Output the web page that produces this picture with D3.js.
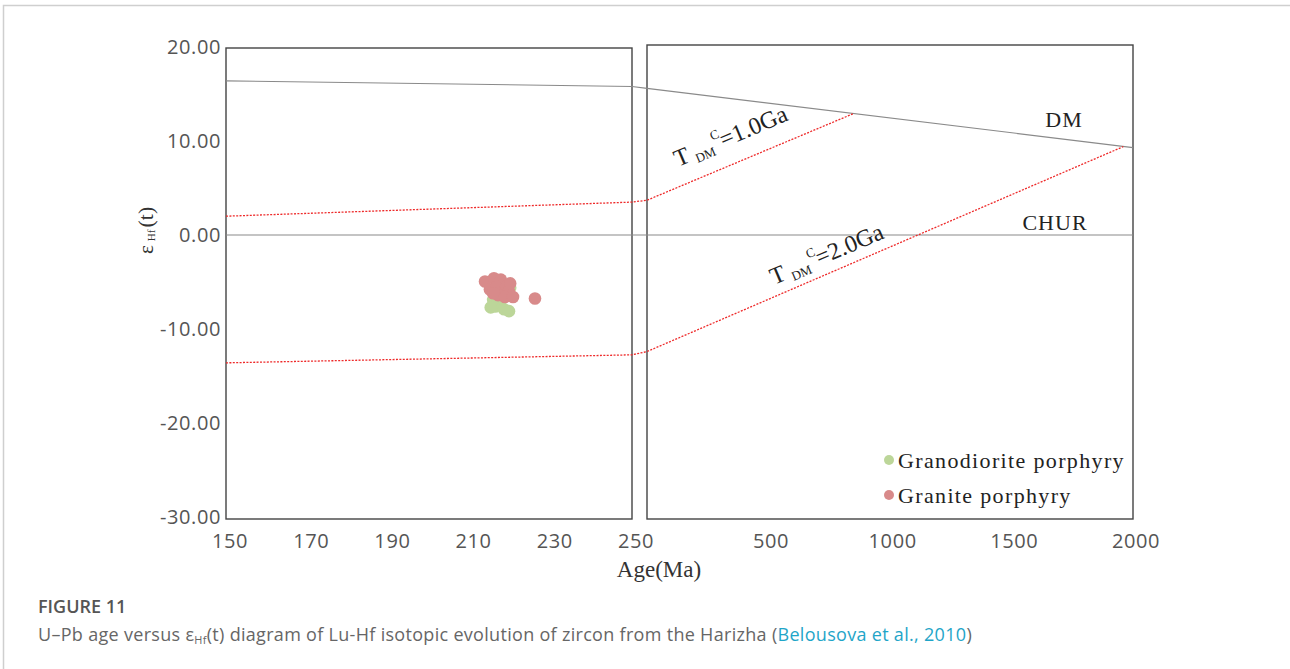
<!DOCTYPE html>
<html>
<head>
<meta charset="utf-8">
<script src="https://cdn.jsdelivr.net/npm/d3@7"></script>
<style>
  html, body { margin: 0; padding: 0; background: #fff; }
  svg { display: block; }
</style>
</head>
<body>
<svg id="chart" width="1290" height="669"></svg>
<script>
// ---- data ----
// zircon analyses: U-Pb age (Ma) and εHf(t)
const granodioriteAge = [217.5, 216.3, 218.5, 219.7, 216.7, 218.2, 220.0, 215.8, 215.2];
const granodioriteEps = [-7.4, -7.6, -7.9, -8.1, -6.5, -6.1, -5.6, -6.9, -7.7];
const graniteAge = [213.8, 216.0, 217.7, 215.0, 216.7, 219.0, 219.7, 217.0, 218.7, 220.7, 215.8, 220.0, 226.1];
const graniteEps = [-4.95, -4.6, -4.75, -5.8, -5.5, -5.5, -6.0, -6.4, -6.6, -6.6, -6.2, -5.15, -6.75];

// reference evolution lines, [age, εHf] per vertex (left panel, right panel)
const dmLeft = [[150, 16.4], [250, 15.8]];
const dmRight = [[250, 15.6], [2000, 9.3]];
const churLeft = [[150, 0], [250, 0]];
const churRight = [[250, 0], [2000, 0]];
const tdm1Left = [[150, 2.0], [250, 3.5]];
const tdm1Right = [[250, 3.7], [850, 12.9]];
const tdm2Left = [[150, -13.6], [250, -12.75]];
const tdm2Right = [[250, -12.4], [1960, 9.4]];

// axis ticks
const yTicks = [20, 10, 0, -10, -20, -30];
const xTicksLeft = [150, 170, 190, 210, 230, 250];
const xTicksRight = [500, 1000, 1500, 2000];

const legendLabels = ["Granodiorite porphyry", "Granite porphyry"];
const seriesColors = ["#bcd699", "#d88a8a"];

// ---- layout ----
const svg = d3.select("#chart");
const serif = "'Liberation Serif', 'Times New Roman', serif";
const sans = "'Open Sans', 'Noto Sans', sans-serif";

const y = d3.scaleLinear().domain([-30, 20]).range([517, 47]);
const xL = d3.scaleLinear().domain([150, 250]).range([226, 632]);
const xR = d3.scaleLinear().domain([250, 500, 2000]).range([647, 768, 1133]);

// page card border
svg.append("path")
  .attr("d", "M3.5,669 V5.5 H1290")
  .attr("fill", "none").attr("stroke", "#cfcfcf").attr("stroke-width", 1.5);

// panel frames
const frameL = { x0: xL(150), x1: xL(250), y0: 48, y1: 519 };
const frameR = { x0: xR(250), x1: xR(2000), y0: 45, y1: 519 };
[frameL, frameR].forEach(f => {
  svg.append("rect")
    .attr("x", f.x0).attr("y", f.y0)
    .attr("width", f.x1 - f.x0).attr("height", f.y1 - f.y0)
    .attr("fill", "none").attr("stroke", "#444").attr("stroke-width", 1.4);
});

// evolution lines, each continuous across both panels
function linePath(left, right) {
  const pts = left.map(d => [xL(d[0]), y(d[1])]).concat(right.map(d => [xR(d[0]), y(d[1])]));
  return d3.line()(pts);
}
svg.append("path").attr("d", linePath(dmLeft, dmRight))
  .attr("fill", "none").attr("stroke", "#8a8a8a").attr("stroke-width", 1.1);
svg.append("path").attr("d", linePath(churLeft, churRight))
  .attr("fill", "none").attr("stroke", "#8a8a8a").attr("stroke-width", 1.1);
[[tdm1Left, tdm1Right], [tdm2Left, tdm2Right]].forEach(([l, r]) => {
  svg.append("path").attr("d", linePath(l, r))
    .attr("fill", "none").attr("stroke", "#ee2a2a").attr("stroke-width", 1.3)
    .attr("stroke-dasharray", "2,1.4");
});

// y tick labels
svg.append("g").selectAll("text").data(yTicks).join("text")
  .attr("x", 221).attr("y", d => y(d)).attr("dy", "0.36em")
  .attr("text-anchor", "end")
  .attr("font-family", sans).attr("font-size", 20).attr("letter-spacing", 0.6)
  .attr("fill", "#555")
  .text(d => d.toFixed(2));

// x tick labels
svg.append("g").selectAll("text").data(xTicksLeft).join("text")
  .attr("x", d => xL(d) + 4).attr("y", 548)
  .attr("text-anchor", "middle")
  .attr("font-family", sans).attr("font-size", 20).attr("letter-spacing", 0.6)
  .attr("fill", "#555").text(d => d);
svg.append("g").selectAll("text").data(xTicksRight).join("text")
  .attr("x", d => xR(d) + 3).attr("y", 548)
  .attr("text-anchor", "middle")
  .attr("font-family", sans).attr("font-size", 20).attr("letter-spacing", 0.6)
  .attr("fill", "#555").text(d => d);

// axis titles
svg.append("text")
  .attr("x", 659).attr("y", 577).attr("text-anchor", "middle")
  .attr("font-family", serif).attr("font-size", 23).attr("fill", "#333")
  .text("Age(Ma)");

const yTitle = svg.append("text")
  .attr("transform", "translate(153,254) rotate(-90)")
  .attr("font-family", serif).attr("font-size", 21).attr("fill", "#333");
yTitle.append("tspan").text("ε");
yTitle.append("tspan").attr("font-size", 11).attr("dx", 4).attr("dy", 2).text("Hf");
yTitle.append("tspan").attr("font-size", 22).attr("dx", 2).attr("dy", -2).text("(t)");

// curve labels
svg.append("text").attr("x", 1064).attr("y", 127).attr("text-anchor", "middle")
  .attr("font-family", serif).attr("font-size", 22).attr("letter-spacing", 1).attr("fill", "#222")
  .text("DM");
svg.append("text").attr("x", 1055).attr("y", 230).attr("text-anchor", "middle")
  .attr("font-family", serif).attr("font-size", 22).attr("letter-spacing", 1).attr("fill", "#222")
  .text("CHUR");

function tdmLabel(px, py, value) {
  const t = svg.append("text")
    .attr("transform", `translate(${px},${py}) rotate(-23)`)
    .attr("font-family", serif).attr("font-size", 24).attr("fill", "#222");
  t.append("tspan").text("T");
  t.append("tspan").attr("font-size", 13).attr("dx", 5).attr("dy", 4).text("DM");
  t.append("tspan").attr("font-size", 13).attr("dx", 1).attr("dy", -15).text("C");
  t.append("tspan").attr("dx", -1).attr("dy", 11).text("=" + value + "Ga");
}
tdmLabel(678, 167, "1.0");
tdmLabel(774, 285, "2.0");

// analyses
const gPts = granodioriteAge.map((a, i) => [a, granodioriteEps[i]]);
const pPts = graniteAge.map((a, i) => [a, graniteEps[i]]);
svg.append("g").selectAll("circle").data(gPts).join("circle")
  .attr("cx", d => xL(d[0])).attr("cy", d => y(d[1])).attr("r", 6.3)
  .attr("fill", seriesColors[0]);
svg.append("g").selectAll("circle").data(pPts).join("circle")
  .attr("cx", d => xL(d[0])).attr("cy", d => y(d[1])).attr("r", 6.3)
  .attr("fill", seriesColors[1]);

// legend
const legend = svg.append("g");
legendLabels.forEach((lab, i) => {
  const ly = 460 + i * 35;
  legend.append("circle").attr("cx", 889).attr("cy", ly).attr("r", 5).attr("fill", seriesColors[i]);
  legend.append("text").attr("x", 898).attr("y", ly + 7.5)
    .attr("font-family", serif).attr("font-size", 22).attr("letter-spacing", 1.35).attr("fill", "#222")
    .text(lab);
});

// caption
svg.append("text").attr("x", 38).attr("y", 613)
  .attr("font-family", sans).attr("font-weight", 600).attr("font-size", 18).attr("fill", "#555")
  .text("FIGURE 11");
const cap = svg.append("text").attr("x", 38).attr("y", 641)
  .attr("font-family", sans).attr("font-weight", 400).attr("font-size", 18).attr("fill", "#666");
cap.append("tspan").text("U–Pb age versus ε");
cap.append("tspan").attr("font-size", 11).attr("dy", 3).text("Hf");
cap.append("tspan").attr("dy", -3).text("(t) diagram of Lu-Hf isotopic evolution of zircon from the Harizha (");
cap.append("tspan").attr("fill", "#1fa5c8").text("Belousova et al., 2010");
cap.append("tspan").text(")");
// fit the caption line to the column width
const capWidth = 934;
const capNode = cap.node();
const nChars = capNode.getNumberOfChars();
const measured = capNode.getComputedTextLength();
cap.attr("letter-spacing", (capWidth - measured) / nChars);
</script>
</body>
</html>
